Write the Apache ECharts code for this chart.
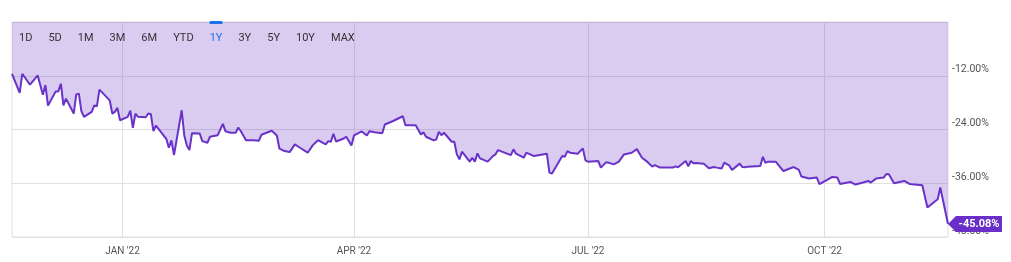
<!DOCTYPE html>
<html>
<head>
<meta charset="utf-8">
<title>1Y performance</title>
<script src="https://cdn.jsdelivr.net/npm/echarts@6/dist/echarts.min.js"></script>
<style>
	html, body { margin: 0; padding: 0; background: #fff; }
	#chart { width: 1011px; height: 262px; }
</style>
</head>
<body>
<div id="chart"></div>
<script>
	// values, % change
	var dates = [
		'2021-11-19', '2021-11-22', '2021-11-23', '2021-11-26', '2021-11-29', '2021-12-01', '2021-12-02', '2021-12-03',
		'2021-12-06', '2021-12-07', '2021-12-08', '2021-12-09', '2021-12-10', '2021-12-13', '2021-12-14', '2021-12-15',
		'2021-12-16', '2021-12-17', '2021-12-20', '2021-12-21', '2021-12-22', '2021-12-23', '2021-12-27', '2021-12-28',
		'2021-12-29', '2021-12-30', '2021-12-31', '2022-01-03', '2022-01-04', '2022-01-05', '2022-01-06', '2022-01-07',
		'2022-01-10', '2022-01-11', '2022-01-12', '2022-01-13', '2022-01-14', '2022-01-18', '2022-01-19', '2022-01-20',
		'2022-01-21', '2022-01-24', '2022-01-25', '2022-01-26', '2022-01-27', '2022-01-28', '2022-01-31', '2022-02-01',
		'2022-02-03', '2022-02-04', '2022-02-07', '2022-02-09', '2022-02-10', '2022-02-12', '2022-02-14', '2022-02-15',
		'2022-02-16', '2022-02-18', '2022-02-21', '2022-02-23', '2022-02-24', '2022-02-28', '2022-03-02', '2022-03-03',
		'2022-03-05', '2022-03-07', '2022-03-09', '2022-03-11', '2022-03-14', '2022-03-16', '2022-03-18', '2022-03-21',
		'2022-03-22', '2022-03-23', '2022-03-24', '2022-03-25', '2022-03-28', '2022-03-29', '2022-03-31', '2022-04-01',
		'2022-04-04', '2022-04-06', '2022-04-07', '2022-04-09', '2022-04-12', '2022-04-13', '2022-04-16', '2022-04-20',
		'2022-04-21', '2022-04-25', '2022-04-27', '2022-04-28', '2022-04-29', '2022-05-02', '2022-05-03', '2022-05-04',
		'2022-05-05', '2022-05-06', '2022-05-09', '2022-05-10', '2022-05-11', '2022-05-12', '2022-05-13', '2022-05-16',
		'2022-05-17', '2022-05-18', '2022-05-19', '2022-05-20', '2022-05-23', '2022-05-25', '2022-05-26', '2022-05-27',
		'2022-06-01', '2022-06-02', '2022-06-03', '2022-06-06', '2022-06-07', '2022-06-10', '2022-06-15', '2022-06-16',
		'2022-06-17', '2022-06-21', '2022-06-22', '2022-06-23', '2022-06-24', '2022-06-27', '2022-06-29', '2022-06-30',
		'2022-07-01', '2022-07-05', '2022-07-06', '2022-07-08', '2022-07-09', '2022-07-11', '2022-07-13', '2022-07-15',
		'2022-07-18', '2022-07-20', '2022-07-22', '2022-07-24', '2022-07-26', '2022-07-27', '2022-07-29', '2022-08-01',
		'2022-08-03', '2022-08-04', '2022-08-05', '2022-08-08', '2022-08-09', '2022-08-10', '2022-08-11', '2022-08-12',
		'2022-08-15', '2022-08-17', '2022-08-19', '2022-08-20', '2022-08-22', '2022-08-23', '2022-08-25', '2022-08-26',
		'2022-08-29', '2022-08-30', '2022-08-31', '2022-09-01', '2022-09-06', '2022-09-07', '2022-09-08', '2022-09-09',
		'2022-09-12', '2022-09-15', '2022-09-16', '2022-09-19', '2022-09-21', '2022-09-22', '2022-09-25', '2022-09-28',
		'2022-09-29', '2022-10-02', '2022-10-04', '2022-10-06', '2022-10-07', '2022-10-11', '2022-10-13', '2022-10-16',
		'2022-10-18', '2022-10-19', '2022-10-21', '2022-10-24', '2022-10-25', '2022-10-26', '2022-10-28', '2022-11-01',
		'2022-11-03', '2022-11-04', '2022-11-08', '2022-11-10', '2022-11-14', '2022-11-15', '2022-11-18'
	];
	var values = [
		-11.56, -15.84, -11.56, -14.00, -11.93, -16.22, -14.07, -18.67,
		-15.49, -15.49, -13.78, -18.60, -17.11, -20.44, -16.16, -16.00,
		-19.93, -21.18, -20.07, -18.60, -18.82, -15.11, -17.49, -20.44,
		-20.07, -19.18, -21.93, -21.18, -19.78, -23.62, -20.44, -21.18,
		-21.27, -20.44, -20.60, -24.38, -23.11, -26.07, -28.07, -26.44,
		-29.71, -19.71, -25.33, -27.56, -28.60, -24.82, -24.89, -26.60,
		-26.96, -25.62, -25.27, -22.73, -24.38, -24.73, -24.73, -23.56,
		-24.38, -26.38, -26.38, -26.51, -25.18, -24.29, -25.33, -28.29,
		-28.82, -29.04, -27.33, -28.07, -29.18, -27.49, -26.38, -27.33,
		-26.60, -26.73, -24.96, -26.67, -26.00, -25.62, -27.56, -25.33,
		-24.44, -25.33, -24.38, -24.60, -24.82, -22.89, -22.16, -21.04,
		-23.04, -23.04, -25.11, -24.60, -25.62, -26.44, -26.22, -24.51,
		-25.27, -24.73, -26.73, -26.73, -29.56, -30.67, -28.96, -31.18,
		-30.29, -31.18, -29.33, -30.44, -31.18, -29.93, -29.56, -28.60,
		-29.71, -28.44, -29.40, -30.29, -29.18, -29.93, -29.40, -33.62,
		-33.84, -29.93, -30.07, -28.82, -29.18, -29.40, -28.22, -30.89,
		-31.18, -31.04, -32.51, -31.33, -31.40, -31.78, -31.18, -29.56,
		-29.18, -28.38, -30.29, -31.18, -32.29, -31.93, -32.51, -32.51,
		-32.51, -32.22, -32.44, -31.04, -32.22, -31.04, -31.56, -31.49,
		-31.62, -32.67, -32.38, -32.51, -32.73, -31.40, -32.07, -33.04,
		-31.62, -32.38, -32.44, -32.29, -32.16, -30.11, -31.44, -31.18,
		-31.18, -33.27, -33.04, -32.38, -33.04, -34.51, -34.96, -34.73,
		-36.22, -35.27, -34.60, -34.73, -36.16, -35.71, -36.29, -35.84,
		-35.49, -35.84, -34.96, -34.73, -33.93, -34.00, -36.00, -35.49,
		-36.16, -36.22, -36.44, -41.40, -39.56, -36.96, -45.08
	];
	var quarterTicks = ['2022-01-01', '2022-04-01', '2022-07-01', '2022-10-01'];
	var monthNames = ['JAN', 'FEB', 'MAR', 'APR', 'MAY', 'JUN', 'JUL', 'AUG', 'SEP', 'OCT', 'NOV', 'DEC'];
	var rangeLabels = ['1D', '5D', '1M', '3M', '6M', 'YTD', '1Y', '3Y', '5Y', '10Y', 'MAX'];
	var activeRange = '1Y';
	var yMin = -48, yMax = 0, yStep = 12;

	var chart = echarts.init(document.getElementById('chart'));

	var lineColor = '#6933c9';
	var activeColor = '#1a73e8';
	var btnFont = '11px Roboto';

	function toTime(s) {
		var p = s.split('-');
		return new Date(+p[0], +p[1] - 1, +p[2]).getTime();
	}

	function buildRangeButtons() {
		var ctx = document.createElement('canvas').getContext('2d');
		ctx.font = btnFont;
		var items = [];
		var x = 19;
		rangeLabels.forEach(function(t) {
			var w = ctx.measureText(t).width;
			var on = t === activeRange;
			items.push({
				type: 'text',
				x: x,
				y: 38.5,
				z: 10,
				style: {
					text: t,
					font: btnFont,
					fill: on ? activeColor : '#333',
					align: 'left',
					verticalAlign: 'middle'
				}
			});
			if (on) {
				items.push({
					type: 'rect',
					z: 10,
					shape: { x: x, y: 21, width: w, height: 3 },
					style: { fill: activeColor }
				});
			}
			x += w + 16;
		});
		return items;
	}

	var seriesData = dates.map(function(d, i) {
		return [toTime(d), values[i]];
	});
	var last = seriesData.length - 1;
	var tickValues = quarterTicks.map(toTime);

	chart.setOption({
		animation: false,
		grid: {
			left: 12,
			right: 63,
			top: 22,
			bottom: 25,
			show: true,
			borderColor: '#e0e0e0',
			borderWidth: 1
		},
		graphic: buildRangeButtons(),
		xAxis: {
			type: 'value',
			min: seriesData[0][0],
			max: seriesData[last][0],
			axisLine: { show: true, lineStyle: { color: '#e0e0e0' } },
			axisTick: { show: false, customValues: tickValues },
			splitLine: { show: true, lineStyle: { color: '#e0e0e0', width: 1 } },
			axisLabel: {
				customValues: tickValues,
				color: '#555',
				fontSize: 10,
				fontFamily: 'Roboto',
				margin: 9,
				formatter: function(val) {
					var d = new Date(val);
					return monthNames[d.getMonth()] + " '" + String(d.getFullYear()).slice(2);
				}
			}
		},
		yAxis: {
			type: 'value',
			position: 'right',
			min: yMin,
			max: yMax,
			interval: yStep,
			axisLine: { show: false },
			axisTick: { show: false },
			splitLine: { lineStyle: { color: '#e0e0e0', width: 1 } },
			axisLabel: {
				showMaxLabel: false,
				color: '#555',
				fontSize: 10.5,
				fontFamily: 'Roboto',
				margin: 4,
				verticalAlign: 'bottom',
				lineHeight: 12,
				formatter: function(v) {
					return v.toFixed(2) + '%';
				}
			}
		},
		series: [{
			type: 'line',
			data: seriesData,
			symbol: 'none',
			lineStyle: { color: lineColor, width: 2 },
			itemStyle: { color: lineColor },
			areaStyle: { origin: 'end', color: 'rgba(106, 53, 201, 0.25)', opacity: 1 },
			markPoint: {
				symbol: 'path://M0,8L8,0L54,0L54,16L8,16Z',
				symbolSize: [54, 16],
				symbolOffset: [27, 0],
				symbolKeepAspect: false,
				itemStyle: { color: '#6a2fc8' },
				label: {
					show: true,
					position: 'inside',
					offset: [4, 0],
					color: '#fff',
					fontSize: 11,
					fontWeight: 'bold',
					fontFamily: 'Roboto',
					formatter: function(p) {
						return p.value.toFixed(2) + '%';
					}
				},
				data: [{ coord: seriesData[last], value: values[last] }]
			}
		}]
	});
</script>
</body>
</html>
